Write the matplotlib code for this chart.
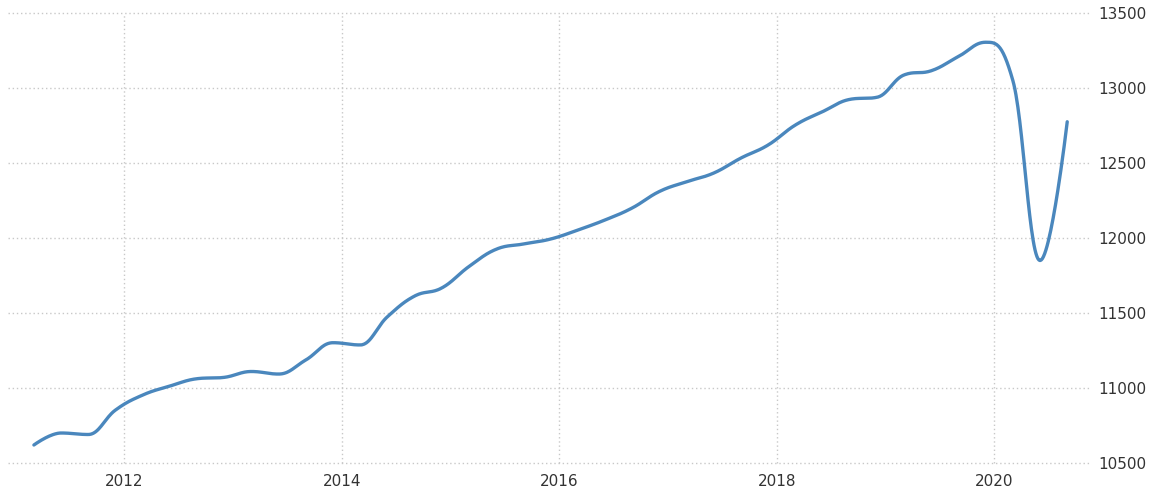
import numpy as np
import matplotlib
matplotlib.use('Agg')
from matplotlib import pyplot as plt

# quarterly values, Q1 2011 .. Q3 2020
years = [2011]*4 + [2012]*4 + [2013]*4 + [2014]*4 + [2015]*4 + [2016]*4 + \
        [2017]*4 + [2018]*4 + [2019]*4 + [2020]*3
quarters = [1, 2, 3, 4]*9 + [1, 2, 3]
values = [10620, 10700, 10690, 10853,
          10953, 11013, 11062, 11071,
          11110, 11093, 11187, 11302,
          11287, 11475, 11613, 11667,
          11810, 11925, 11960, 11993,
          12053, 12120, 12200, 12310,
          12375, 12433, 12533, 12620,
          12753, 12842, 12924, 12938,
          13087, 13115, 13210, 13305,
          13050, 11850, 12775]

yticks = [10500, 11000, 11500, 12000, 12500, 13000, 13500]
xticks = [2012, 2014, 2016, 2018, 2020]

lineColor = '#4a87bd'
gridColor = '#c8c8c8'
textColor = '#333333'
smoothing = 1.5


def quarterPos(y, q):
    return y + (q - 1) / 4.0 + 0.17


def controlPoints(x, y):
    # spline control points, clamped so no false extremes appear
    n = len(x)
    left = [(x[0], y[0])]
    right = [(x[0], y[0])]
    for i in range(1, n - 1):
        lx = (smoothing*x[i] + x[i-1]) / (smoothing + 1)
        ly = (smoothing*y[i] + y[i-1]) / (smoothing + 1)
        rx = (smoothing*x[i] + x[i+1]) / (smoothing + 1)
        ry = (smoothing*y[i] + y[i+1]) / (smoothing + 1)
        corr = (ry - ly) * (rx - x[i]) / (rx - lx) + y[i] - ry
        ly += corr
        ry += corr
        if ly > y[i-1] and ly > y[i]:
            ly = max(y[i-1], y[i]); ry = 2*y[i] - ly
        elif ly < y[i-1] and ly < y[i]:
            ly = min(y[i-1], y[i]); ry = 2*y[i] - ly
        if ry > y[i+1] and ry > y[i]:
            ry = max(y[i+1], y[i]); ly = 2*y[i] - ry
        elif ry < y[i+1] and ry < y[i]:
            ry = min(y[i+1], y[i]); ly = 2*y[i] - ry
        left.append((lx, ly))
        right.append((rx, ry))
    left.append((x[-1], y[-1]))
    right.append((x[-1], y[-1]))
    return left, right


def smoothLine(x, y, steps=30):
    left, right = controlPoints(x, y)
    xs, ys = [], []
    t = np.linspace(0, 1, steps, endpoint=False)
    for i in range(len(x) - 1):
        p0 = (x[i], y[i])
        p1 = right[i]
        p2 = left[i + 1]
        p3 = (x[i + 1], y[i + 1])
        a = (1 - t)**3
        b = 3*(1 - t)**2*t
        c = 3*(1 - t)*t**2
        d = t**3
        xs.extend(a*p0[0] + b*p1[0] + c*p2[0] + d*p3[0])
        ys.extend(a*p0[1] + b*p1[1] + c*p2[1] + d*p3[1])
    xs.append(x[-1])
    ys.append(y[-1])
    return np.array(xs), np.array(ys)


xPos = [quarterPos(y, q) for y, q in zip(years, quarters)]
sx, sy = smoothLine(xPos, values)

fig = plt.figure(figsize=(11.6, 5), dpi=100)
ax = fig.add_axes([0.007, 0.074, 0.933, 0.9])

ax.plot(sx, sy, color=lineColor, linewidth=2.4, solid_capstyle='round')

ax.set_xlim(2010.933, 2020.883)
ax.set_ylim(10500, 13500)
ax.set_xticks(xticks)
ax.set_xticklabels([str(v) for v in xticks])
ax.set_yticks(yticks)
ax.set_yticklabels([str(v) for v in yticks])

ax.yaxis.tick_right()
ax.tick_params(axis='both', length=0, labelsize=11, labelcolor=textColor)
ax.tick_params(axis='y', pad=6)
ax.tick_params(axis='x', pad=8)

ax.grid(True, color=gridColor, linestyle=(0, (1, 2)), linewidth=1)
ax.set_axisbelow(True)
for g in ax.get_ygridlines() + ax.get_xgridlines():
    g.set_clip_on(False)
for s in ax.spines.values():
    s.set_visible(False)

fig.savefig('out.png', dpi=100, facecolor='white')
